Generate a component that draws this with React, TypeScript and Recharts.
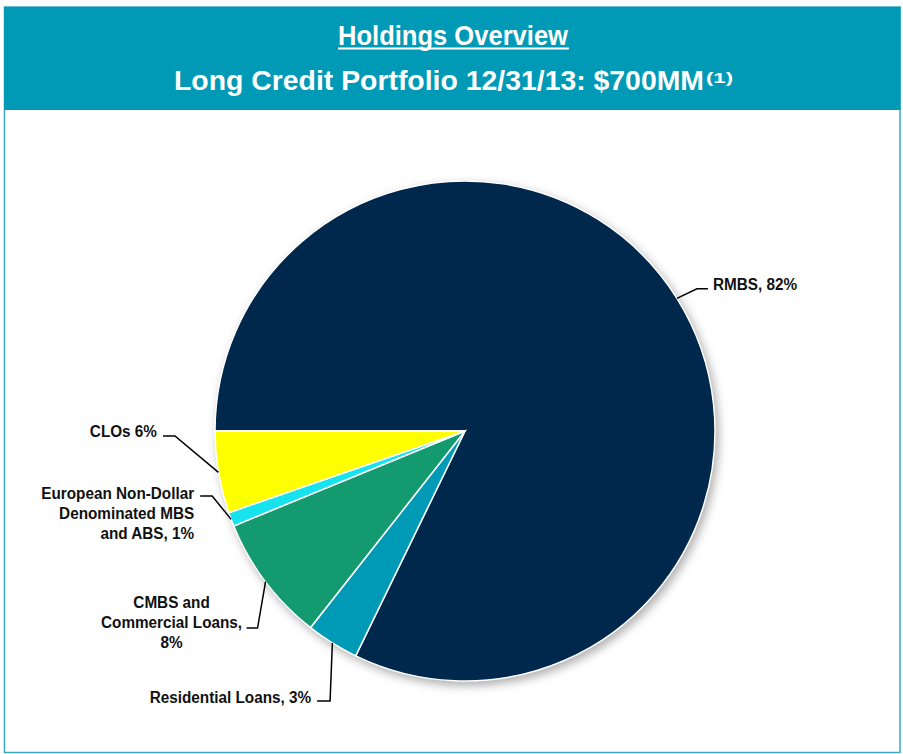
import React from 'react';
import { PieChart, Pie, Cell } from 'recharts';

const categories = [
  'RMBS',
  'Residential Loans',
  'CMBS and Commercial Loans',
  'European Non-Dollar Denominated MBS and ABS',
  'CLOs',
];
const shares = [82.2, 3.4, 8.2, 0.9, 5.3];
const labelLines = [
  ['RMBS, 82%'],
  ['Residential Loans, 3%'],
  ['CMBS and', 'Commercial Loans,', '8%'],
  ['European Non-Dollar', 'Denominated MBS', 'and ABS, 1%'],
  ['CLOs 6%'],
];
const titleLine1 = 'Holdings Overview';
const titleLine2 = 'Long Credit Portfolio 12/31/13: $700MM';
const titleNote = '(1)';

const colors = ['#00284D', '#0099B6', '#139A6F', '#17E3EF', '#FFFF00'];
const TEAL = '#009AB7';

const data = categories.map((name, i) => ({ name, value: shares[i] }));

// leader line layout (offsets from the slice's outer edge at its mid angle)
const leaders = [
  { dx: 20, dy: -9.5, len: 11, gap: 5, anchor: 'start', first: 1.5 },
  { dx: -2.3, dy: 58, len: -13, gap: -6, anchor: 'end', first: 2 },
  { dx: -8, dy: 46.3, len: -11, gap: -75, anchor: 'middle', first: -20 },
  { dx: -19, dy: -23.4, len: -12, gap: -6, anchor: 'end', first: 3 },
  { dx: -43.5, dy: -36.5, len: -12, gap: -6, anchor: 'end', first: 1 },
];

const RAD = Math.PI / 180;
const FONT = "'Liberation Sans', Arial, sans-serif";

const renderLabel = (p: any) => {
  const { cx, cy, midAngle, outerRadius, index } = p;
  const ex = cx + outerRadius * Math.cos(-midAngle * RAD);
  const ey = cy + outerRadius * Math.sin(-midAngle * RAD);
  const L = leaders[index];
  const bx = ex + L.dx;
  const by = ey + L.dy;
  const tx = bx + L.len;
  const textX = tx + L.gap;
  return (
    <g key={`lbl-${index}`}>
      <polyline
        points={`${ex},${ey} ${bx},${by} ${tx},${by}`}
        fill="none"
        stroke="#000"
        strokeWidth={1.5}
      />
      {labelLines[index].map((line, j) => (
        <text
          key={j}
          transform={`translate(${textX},${by + L.first + j * 20}) scale(0.9,1)`}
          textAnchor={L.anchor as any}
          fontSize={17}
          fontWeight="bold"
          fontFamily={FONT}
          fill="#111"
        >
          {line}
        </text>
      ))}
    </g>
  );
};

export default function App() {
  return (
    <div style={{ position: 'absolute', left: 0, top: 0, width: 903, height: 754, background: '#fff' }}>
      <style>{`.pie-shadow { filter: blur(3px); }`}</style>
      <svg width={903} height={754} style={{ position: 'absolute', left: 0, top: 0 }}>
        <rect x={4.5} y={7} width={895.5} height={745.5} fill="#fff" stroke="#3AA6C2" strokeWidth={1.5} />
        <rect x={4} y={7} width={896.5} height={103} fill={TEAL} />
        <text
          x={338}
          y={44.5}
          textLength={230}
          lengthAdjust="spacingAndGlyphs"
          fontSize={28}
          fontWeight="bold"
          fontFamily={FONT}
          fill="#fff"
        >
          {titleLine1}
        </text>
        <rect x={338} y={47.5} width={231} height={2} fill="#fff" />
        <text
          x={174}
          y={89.5}
          textLength={530}
          lengthAdjust="spacingAndGlyphs"
          fontSize={28}
          fontWeight="bold"
          fontFamily={FONT}
          fill="#fff"
        >
          {titleLine2}
        </text>
        <text
          x={706}
          y={83}
          textLength={27}
          lengthAdjust="spacingAndGlyphs"
          fontSize={15}
          fontWeight="bold"
          fontFamily={FONT}
          fill="#fff"
        >
          {titleNote}
        </text>
      </svg>
      <div style={{ position: 'absolute', left: 0, top: 0 }}>
        <PieChart width={903} height={754} margin={{ top: 0, right: 0, bottom: 0, left: 0 }}>
          <Pie
            data={data}
            dataKey="value"
            nameKey="name"
            cx={468}
            cy={435}
            outerRadius={251}
            startAngle={180}
            endAngle={-180}
            isAnimationActive={false}
            stroke="none"
            className="pie-shadow"
            label={false}
            labelLine={false}
          >
            {data.map((d, i) => (
              <Cell key={i} fill="#000" fillOpacity={0.3} stroke="none" />
            ))}
          </Pie>
          <Pie
            data={data}
            dataKey="value"
            nameKey="name"
            cx={465}
            cy={431}
            outerRadius={250}
            startAngle={180}
            endAngle={-180}
            isAnimationActive={false}
            stroke="#fff"
            strokeWidth={1.5}
            label={renderLabel}
            labelLine={false}
          >
            {data.map((d, i) => (
              <Cell key={i} fill={colors[i]} stroke="#fff" strokeWidth={1.5} />
            ))}
          </Pie>
        </PieChart>
      </div>
    </div>
  );
}
